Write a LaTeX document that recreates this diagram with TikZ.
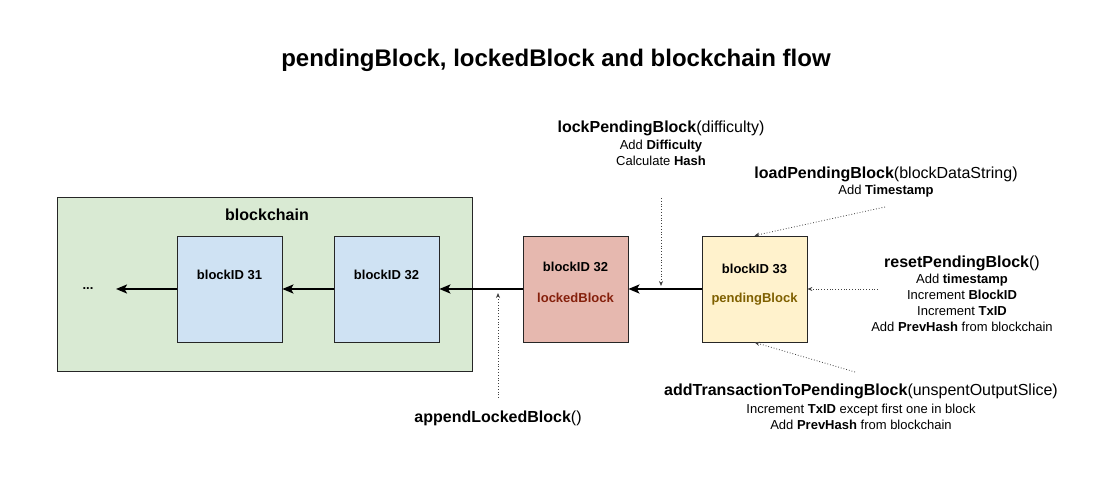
\documentclass[tikz,border=0pt]{standalone}
\usepackage{fontspec}
\setmainfont{Liberation Sans}
\usetikzlibrary{arrows.meta,positioning}
\definecolor{chaingreen}{HTML}{D9EAD3}
\definecolor{blockblue}{HTML}{CFE2F3}
\definecolor{lockedred}{HTML}{E6B8AF}
\definecolor{pendingyellow}{HTML}{FFF2CC}
\definecolor{lockedtext}{HTML}{85200C}
\definecolor{pendingtext}{HTML}{7F6000}
\begin{document}
\begin{tikzpicture}[x=1pt,y=-1pt,
  block/.style={draw=black!85,line width=0.8pt,minimum width=105pt,minimum height=106pt,inner sep=0pt},
  flow/.style={line width=2pt,-{Stealth[length=11pt,width=9pt,inset=2.5pt]}},
  hint/.style={dotted,line width=0.8pt,black!75,-{Stealth[length=5pt,width=4pt]}},
  fn/.style={font=\fontsize{16}{19}\selectfont},
  desc/.style={font=\fontsize{13}{16}\selectfont,align=center},
  lbl/.style={font=\fontsize{13}{16}\selectfont\bfseries}]
  \useasboundingbox (0,0) rectangle (1109,486);
  \fill[white] (0,0) rectangle (1109,486);
  \node[font=\fontsize{24}{28}\selectfont\bfseries] (title) at (556,60) {pendingBlock, lockedBlock and blockchain flow};
  % blockchain frame
  \node[draw=black!85,line width=0.8pt,fill=chaingreen,minimum width=415pt,minimum height=174pt,inner sep=0pt] (chain) at (264.5,284) {};
  \node[font=\fontsize{16}{19}\selectfont\bfseries] (chainlbl) at (267,215) {blockchain};
  % blocks
  \node[block,fill=blockblue] (b31) at (229.5,289) {};
  \node[block,fill=blockblue] (b32) at (386.5,289) {};
  \node[block,fill=lockedred] (locked) at (575.5,289) {};
  \node[block,fill=pendingyellow] (pending) at (754.5,289) {};
  \node[lbl] (b31id) at (229.5,275) {blockID 31};
  \node[lbl] (b32id) at (386.5,275) {blockID 32};
  \node[lbl] (lockedid) at (575.5,267) {blockID 32};
  \node[lbl,text=lockedtext] (lockedname) at (575.5,298) {lockedBlock};
  \node[lbl] (pendingid) at (754.5,269) {blockID 33};
  \node[lbl,text=pendingtext] (pendingname) at (754.5,299) {pendingBlock};
  \node[lbl] (dots) at (88,289) {...};
  \coordinate (chainend) at (116,289);
  % main flow
  \draw[flow] (pending.west) -- (locked.east);
  \draw[flow] (locked.west) -- (b32.east);
  \draw[flow] (b32.west) -- (b31.east);
  \draw[flow] (b31.west) -- (chainend);
  % calls
  \node[fn] (lockfn) at (661,128) {\textbf{lockPendingBlock}(difficulty)};
  \node[desc] (lockdesc) at (661,153) {Add \textbf{Difficulty}\\Calculate \textbf{Hash}};
  \node[fn] (loadfn) at (886,174) {\textbf{loadPendingBlock}(blockDataString)};
  \node[desc] (loaddesc) at (886,191) {Add \textbf{Timestamp}};
  \node[fn] (resetfn) at (962,263) {\textbf{resetPendingBlock}()};
  \node[desc] (resetdesc) at (962,303) {Add \textbf{timestamp}\\Increment \textbf{BlockID}\\Increment \textbf{TxID}\\Add \textbf{PrevHash} from blockchain};
  \node[fn] (addfn) at (861,391) {\textbf{addTransactionToPendingBlock}(unspentOutputSlice)};
  \node[desc] (adddesc) at (861,417) {Increment \textbf{TxID} except first one in block\\Add \textbf{PrevHash} from blockchain};
  \node[fn] (appendfn) at (498,418) {\textbf{appendLockedBlock}()};
  % dotted hints
  \coordinate (lockfrom) at (661,198);
  \coordinate (lockto) at (661,286);
  \coordinate (loadfrom) at (885,207);
  \coordinate (resetfrom) at (878,289);
  \coordinate (addfrom) at (855,372);
  \coordinate (appendfrom) at (498,398);
  \coordinate (appendto) at (498,293);
  \draw[hint] (lockfrom) -- (lockto);
  \draw[hint] (loadfrom) -- (pending.north);
  \draw[hint] (resetfrom) -- (pending.east);
  \draw[hint] (addfrom) -- (pending.south);
  \draw[hint] (appendfrom) -- (appendto);
\end{tikzpicture}
\end{document}
